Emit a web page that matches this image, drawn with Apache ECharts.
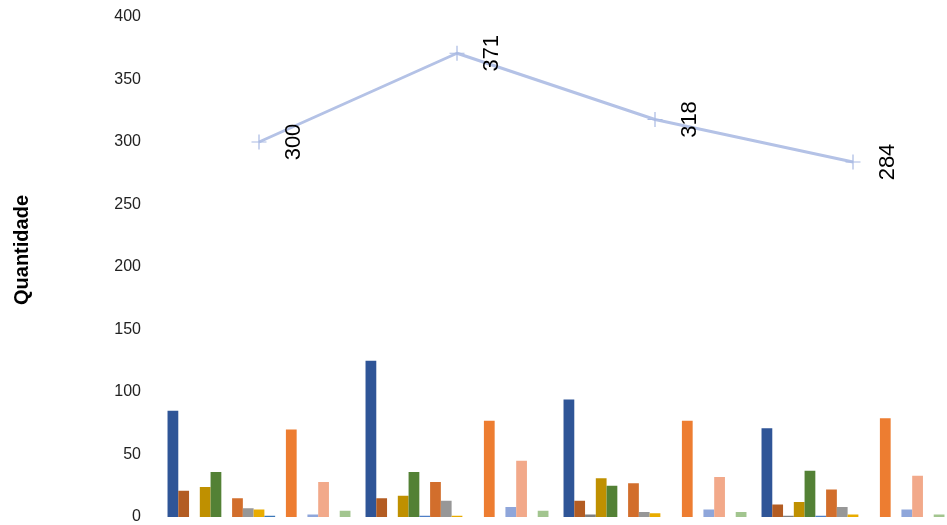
<!DOCTYPE html>
<html>
<head>
<meta charset="utf-8">
<script src="https://cdn.jsdelivr.net/npm/echarts@6/dist/echarts.min.js"></script>
<style>html,body{margin:0;padding:0;background:#fff;overflow:hidden;}#c{width:952px;height:525px;}</style>
</head>
<body>
<div id="c"></div>
<script>
// categories (x labels not visible in the reference)
const categories = ['1', '2', '3', '4'];
const yTicks = [0, 50, 100, 150, 200, 250, 300, 350, 400];
const seriesNames = ['Série 1','Série 2','Série 3','Série 4','Série 5','Série 6','Série 7','Série 8','Série 9','Série 10','Série 11','Série 12','Série 13','Série 14','Série 15','Série 16','Série 17'];
const s1  = [85, 125, 94, 71];
const s2  = [21, 15, 13, 10];
const s3  = [0, 0, 2, 1];
const s4  = [24, 17, 31, 12];
const s5  = [36, 36, 25, 37];
const s6  = [0, 1, 0, 1];
const s7  = [15, 28, 27, 22];
const s8  = [7, 13, 4, 8];
const s9  = [6, 1, 3, 2];
const s10 = [1, 0, 0, 0];
const s11 = [0, 0, 0, 0];
const s12 = [70, 77, 77, 79];
const s13 = [0, 0, 0, 0];
const s14 = [2, 8, 6, 6];
const s15 = [28, 45, 32, 33];
const s16 = [0, 0, 0, 0];
const s17 = [5, 5, 4, 2];
const totalName = 'Total';
const totals = [300, 371, 318, 284];

const barData = [s1,s2,s3,s4,s5,s6,s7,s8,s9,s10,s11,s12,s13,s14,s15,s16,s17];
const barColors = ['#2F5597','#B35C22','#7F7F7F','#BF9000','#538135','#4F7FC6','#D26E2C','#979797','#E9AC00','#3C78B8','#5B9BD5','#ED7D31','#A5A5A5','#8FA6DA','#F2A98A','#9DC3E6','#A2C58F'];

const chart = echarts.init(document.getElementById('c'));
const series = barData.map((d, i) => ({
  name: seriesNames[i],
  type: 'bar',
  data: d,
  barGap: '0%',
  barCategoryGap: '7.6%',
  itemStyle: { color: barColors[i] }
}));
series.push({
  name: totalName,
  type: 'line',
  data: totals,
  symbol: 'path://M4.6,0h0.8v10h-0.8z M0,4.6h10v0.8h-10z',
  symbolSize: 15,
  lineStyle: { color: '#B4C2E6', width: 3 },
  itemStyle: { color: '#A9BAE3' },
  label: {
    show: true,
    position: 'right',
    distance: 27,
    rotate: 90,
    align: 'center',
    verticalAlign: 'middle',
    color: '#000',
    fontFamily: 'Liberation Sans',
    fontSize: 22
  },
  z: 5
});

chart.setOption({
  animation: false,
  grid: { left: 160, top: 17, right: 0, height: 500 },
  xAxis: {
    type: 'category',
    data: categories,
    axisLine: { show: false },
    axisTick: { show: false },
    axisLabel: { show: false }
  },
  yAxis: {
    type: 'value',
    min: yTicks[0],
    max: yTicks[yTicks.length - 1],
    interval: 50,
    axisLine: { show: false },
    axisTick: { show: false },
    splitLine: { show: false },
    axisLabel: { margin: 19, color: '#222', fontFamily: 'Liberation Sans', fontSize: 16, padding: [4, 0, 0, 0] }
  },
  graphic: [{
    type: 'text',
    x: 22, y: 250,
    rotation: Math.PI / 2,
    style: {
      text: 'Quantidade',
      font: 'bold 20px "Liberation Sans"',
      fill: '#000',
      align: 'center',
      verticalAlign: 'middle'
    }
  }],
  series: series
});
</script>
</body>
</html>
